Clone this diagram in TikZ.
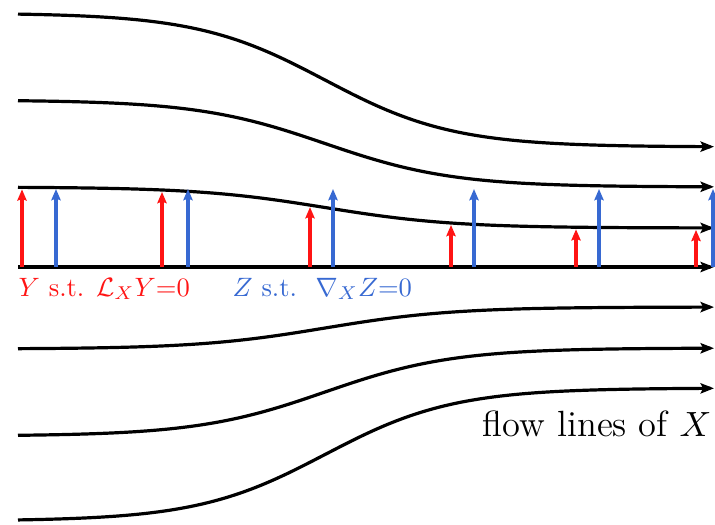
\documentclass[tikz,border=0pt]{standalone}
\usetikzlibrary{arrows.meta}
\definecolor{vred}{RGB}{255,20,20}
\definecolor{vblue}{RGB}{55,105,210}
\newcommand{\lbltext}[1]{\scalebox{0.83}{\fontsize{10}{12}\selectfont #1}}
\tikzset{
  flowline/.style={line width=1pt, -{Stealth[length=4.2pt,width=3.2pt,inset=0.8pt]}},
  yvec/.style={vred, line width=1.05pt, -{Stealth[length=3.5pt,width=2.9pt,inset=0.5pt]}},
  zvec/.style={vblue, line width=1.05pt, -{Stealth[length=3.5pt,width=2.9pt,inset=0.5pt]}},
  lbl/.style={inner sep=0pt, anchor=base west}
}
\begin{document}
\begin{tikzpicture}[x=0.3125pt, y=-0.3125pt]
\useasboundingbox (0,0) rectangle (715,524);
\clip (0,0) rectangle (715,524);
% flow lines
\foreach \ya/\yb in {13/147, 100/187, 187/228, 267/267, 349/307, 436/348, 521/388}{
  \draw[flowline] plot[domain=18:714, samples=120, smooth]
     (\x, {\ya + (\yb-\ya)*(1+tanh((\x-325)/128))/2});
}
% Y vectors (Lie dragged): up to third flow line
\foreach \xx in {22,162,310,451,576,696}{
  \coordinate (ybase) at (\xx,267);
  \coordinate (ytip) at (\xx, {189 + 41*(1+tanh((\xx-325)/128))/2});
  \draw[yvec] (ybase) -- (ytip);
}
% Z vectors (parallel): constant length
\foreach \xx in {56,188,333,474,599,713}{
  \coordinate (zbase) at (\xx,267);
  \coordinate (ztip) at (\xx,189);
  \draw[zvec] (zbase) -- (ztip);
}
% labels
\node[lbl, text=vred] (ylabel) at (18,296) {\lbltext{$Y$ s.t. $\mathcal{L}_X Y{=}0$}};
\node[lbl, text=vblue] (zlabel) at (232,296) {\lbltext{$Z$ s.t.\hspace{7pt}$\nabla_X Z{=}0$}};
\node[inner sep=0pt, anchor=base east, font=\fontsize{11.4}{13}\selectfont] (flabel) at (712,436) {flow lines of $X$};
\end{tikzpicture}
\end{document}
